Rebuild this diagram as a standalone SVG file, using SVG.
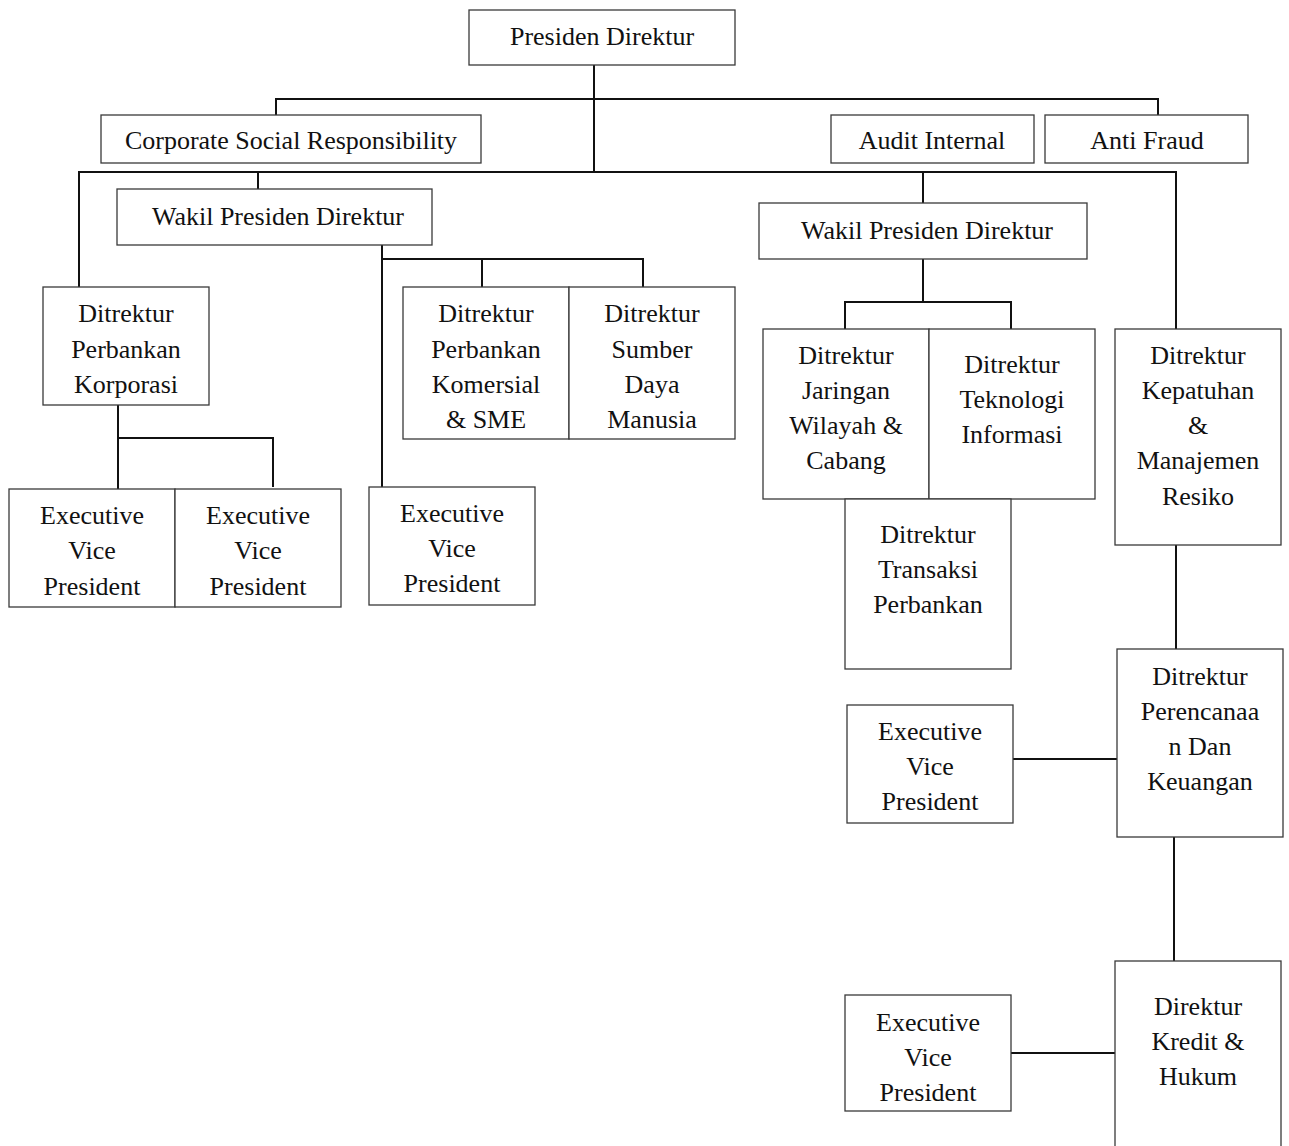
<svg xmlns="http://www.w3.org/2000/svg" width="1289" height="1146" viewBox="0 0 1289 1146">
  <style>
    .box { fill: #ffffff; stroke: #3a3a3a; stroke-width: 1.3; }
    .lbl { font-family: "Liberation Serif", "Times New Roman", serif; font-size: 26px; fill: #111111; text-anchor: middle; }
    .wire { fill: none; stroke: #111111; stroke-width: 2; }
  </style>
  <rect width="1289" height="1146" fill="#ffffff"/>

  <!-- connectors -->
  <g id="connectors">
    <path class="wire" d="M594 65 V172"/>
    <path class="wire" d="M276 115 V99 H1158 V115"/>
    <path class="wire" d="M79 287 V172 H1176 V329"/>
    <path class="wire" d="M258 172 V189"/>
    <path class="wire" d="M923 172 V203"/>
    <path class="wire" d="M382 245 V487"/>
    <path class="wire" d="M382 259 H643 V287"/>
    <path class="wire" d="M482 259 V287"/>
    <path class="wire" d="M118 405 V489"/>
    <path class="wire" d="M118 438 H273 V487"/>
    <path class="wire" d="M923 259 V302"/>
    <path class="wire" d="M845 329 V302 H1011 V329"/>
    <path class="wire" d="M1176 545 V649"/>
    <path class="wire" d="M1013 759 H1117"/>
    <path class="wire" d="M1174 837 V961"/>
    <path class="wire" d="M1011 1053 H1115"/>
  </g>

  <g id="presiden-direktur">
    <rect class="box" x="469" y="10" width="266" height="55"/>
    <text class="lbl" x="602" y="45">Presiden Direktur</text>
  </g>

  <g id="csr">
    <rect class="box" x="101" y="115" width="380" height="48"/>
    <text class="lbl" x="291" y="149">Corporate Social Responsibility</text>
  </g>

  <g id="audit-internal">
    <rect class="box" x="831" y="115" width="203" height="48"/>
    <text class="lbl" x="932" y="149">Audit Internal</text>
  </g>

  <g id="anti-fraud">
    <rect class="box" x="1045" y="115" width="203" height="48"/>
    <text class="lbl" x="1147" y="149">Anti Fraud</text>
  </g>

  <g id="wakil-presiden-1">
    <rect class="box" x="117" y="189" width="315" height="56"/>
    <text class="lbl" x="278" y="225">Wakil Presiden Direktur</text>
  </g>

  <g id="wakil-presiden-2">
    <rect class="box" x="759" y="203" width="328" height="56"/>
    <text class="lbl" x="927" y="239">Wakil Presiden Direktur</text>
  </g>

  <g id="dir-korporasi">
    <rect class="box" x="43" y="287" width="166" height="118"/>
    <text class="lbl" x="126" y="322">Ditrektur</text>
    <text class="lbl" x="126" y="358">Perbankan</text>
    <text class="lbl" x="126" y="393">Korporasi</text>
  </g>

  <g id="dir-komersial">
    <rect class="box" x="403" y="287" width="166" height="152"/>
    <text class="lbl" x="486" y="322">Ditrektur</text>
    <text class="lbl" x="486" y="358">Perbankan</text>
    <text class="lbl" x="486" y="393">Komersial</text>
    <text class="lbl" x="486" y="428">&amp; SME</text>
  </g>

  <g id="dir-sdm">
    <rect class="box" x="569" y="287" width="166" height="152"/>
    <text class="lbl" x="652" y="322">Ditrektur</text>
    <text class="lbl" x="652" y="358">Sumber</text>
    <text class="lbl" x="652" y="393">Daya</text>
    <text class="lbl" x="652" y="428">Manusia</text>
  </g>

  <g id="evp-1">
    <rect class="box" x="9" y="489" width="166" height="118"/>
    <text class="lbl" x="92" y="524">Executive</text>
    <text class="lbl" x="92" y="559">Vice</text>
    <text class="lbl" x="92" y="595">President</text>
  </g>

  <g id="evp-2">
    <rect class="box" x="175" y="489" width="166" height="118"/>
    <text class="lbl" x="258" y="524">Executive</text>
    <text class="lbl" x="258" y="559">Vice</text>
    <text class="lbl" x="258" y="595">President</text>
  </g>

  <g id="evp-3">
    <rect class="box" x="369" y="487" width="166" height="118"/>
    <text class="lbl" x="452" y="522">Executive</text>
    <text class="lbl" x="452" y="557">Vice</text>
    <text class="lbl" x="452" y="592">President</text>
  </g>

  <g id="dir-jaringan">
    <rect class="box" x="763" y="329" width="166" height="170"/>
    <text class="lbl" x="846" y="364">Ditrektur</text>
    <text class="lbl" x="846" y="399">Jaringan</text>
    <text class="lbl" x="846" y="434">Wilayah &amp;</text>
    <text class="lbl" x="846" y="469">Cabang</text>
  </g>

  <g id="dir-teknologi">
    <rect class="box" x="929" y="329" width="166" height="170"/>
    <text class="lbl" x="1012" y="373">Ditrektur</text>
    <text class="lbl" x="1012" y="408">Teknologi</text>
    <text class="lbl" x="1012" y="443">Informasi</text>
  </g>

  <g id="dir-transaksi">
    <rect class="box" x="845" y="499" width="166" height="170"/>
    <text class="lbl" x="928" y="543">Ditrektur</text>
    <text class="lbl" x="928" y="578">Transaksi</text>
    <text class="lbl" x="928" y="613">Perbankan</text>
  </g>

  <g id="dir-kepatuhan">
    <rect class="box" x="1115" y="329" width="166" height="216"/>
    <text class="lbl" x="1198" y="364">Ditrektur</text>
    <text class="lbl" x="1198" y="399">Kepatuhan</text>
    <text class="lbl" x="1198" y="434">&amp;</text>
    <text class="lbl" x="1198" y="469">Manajemen</text>
    <text class="lbl" x="1198" y="505">Resiko</text>
  </g>

  <g id="dir-perencanaan">
    <rect class="box" x="1117" y="649" width="166" height="188"/>
    <text class="lbl" x="1200" y="685">Ditrektur</text>
    <text class="lbl" x="1200" y="720">Perencanaa</text>
    <text class="lbl" x="1200" y="755">n Dan</text>
    <text class="lbl" x="1200" y="790">Keuangan</text>
  </g>

  <g id="evp-4">
    <rect class="box" x="847" y="705" width="166" height="118"/>
    <text class="lbl" x="930" y="740">Executive</text>
    <text class="lbl" x="930" y="775">Vice</text>
    <text class="lbl" x="930" y="810">President</text>
  </g>

  <g id="dir-kredit">
    <rect class="box" x="1115" y="961" width="166" height="200"/>
    <text class="lbl" x="1198" y="1015">Direktur</text>
    <text class="lbl" x="1198" y="1050">Kredit &amp;</text>
    <text class="lbl" x="1198" y="1085">Hukum</text>
  </g>

  <g id="evp-5">
    <rect class="box" x="845" y="995" width="166" height="116"/>
    <text class="lbl" x="928" y="1031">Executive</text>
    <text class="lbl" x="928" y="1066">Vice</text>
    <text class="lbl" x="928" y="1101">President</text>
  </g>
</svg>
